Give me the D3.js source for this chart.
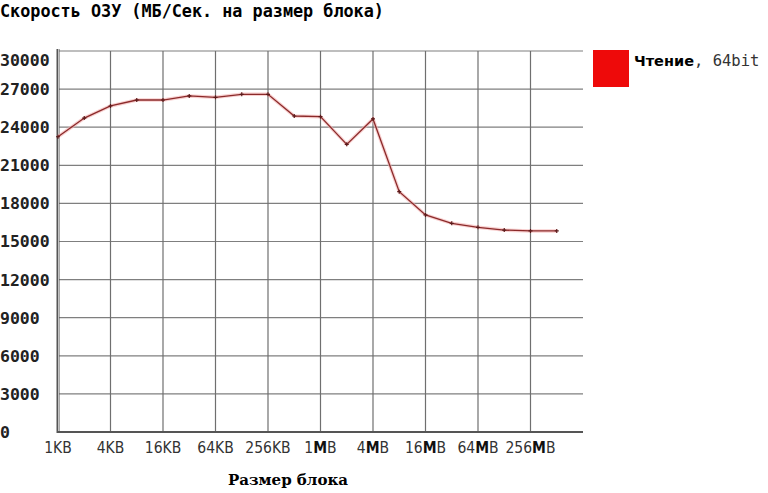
<!DOCTYPE html>
<html>
<head>
<meta charset="utf-8">
<script src="https://cdn.jsdelivr.net/npm/d3@7"></script>
<style>
    body { margin: 0; background: #fff; }
    svg { display: block; }
</style>
</head>
<body>
<div id="chart"></div>
<script>
// block sizes in KB, 1KB .. 512MB
const blockSizes = [1, 2, 4, 8, 16, 32, 64, 128, 256, 512, 1024, 2048, 4096, 8192,
    16384, 32768, 65536, 131072, 262144, 524288];
const readSpeed = [23250, 24720, 25670, 26140, 26140, 26460, 26350, 26590, 26590, 24880,
    24830, 22650, 24650, 18920, 17090, 16430, 16120, 15900, 15830, 15830];
const yTicks = [0, 3000, 6000, 9000, 12000, 15000, 18000, 21000, 24000, 27000, 30000];
const xTickValues = [1, 4, 16, 64, 256, 1024, 4096, 16384, 65536, 262144];
const xTickLabels = [["1", "", "KB"], ["4", "", "KB"], ["16", "", "KB"], ["64", "", "KB"], ["256", "", "KB"],
    ["1", "M", "B"], ["4", "M", "B"], ["16", "M", "B"], ["64", "M", "B"], ["256", "M", "B"]];
const seriesName = "Чтение";
const seriesSuffix = ", 64bit";

const width = 768, height = 493;
const plotLeft = 58, plotRight = 583, plotTop = 51, plotBottom = 432;

const svg = d3.select("#chart").append("svg")
    .attr("width", width)
    .attr("height", height);

const x = d3.scaleLog().base(2)
    .domain([1, 1048576])
    .range([plotLeft, plotRight]);

const y = d3.scaleLinear()
    .domain([0, 30000])
    .range([plotBottom, plotTop]);

// title
svg.append("text")
    .attr("x", 0)
    .attr("y", 17)
    .attr("font-family", "DejaVu Sans Mono")
    .attr("font-weight", "bold")
    .attr("font-size", 16.8)
    .text("Скорость ОЗУ (МБ/Сек. на размер блока)");

// grid
svg.append("g")
    .selectAll("line")
    .data(yTicks.slice(1))
    .join("line")
    .attr("x1", plotLeft).attr("x2", plotRight)
    .attr("y1", d => y(d)).attr("y2", d => y(d))
    .attr("stroke", "#7f7f7f")
    .attr("stroke-width", 1.2);

svg.append("g")
    .selectAll("line")
    .data(xTickValues.slice(1))
    .join("line")
    .attr("x1", d => x(d)).attr("x2", d => x(d))
    .attr("y1", plotTop).attr("y2", plotBottom)
    .attr("stroke", "#6f6f6f")
    .attr("stroke-width", 1.2);

// axes
svg.append("line")
    .attr("x1", plotLeft).attr("x2", plotLeft)
    .attr("y1", plotTop - 2).attr("y2", plotBottom + 1)
    .attr("stroke", "#555").attr("stroke-width", 3);
svg.append("line")
    .attr("x1", plotLeft + 0.5).attr("x2", plotLeft + 0.5)
    .attr("y1", plotTop - 2).attr("y2", plotBottom)
    .attr("stroke", "#ddd").attr("stroke-width", 0.8);
svg.append("line")
    .attr("x1", plotLeft).attr("x2", plotRight)
    .attr("y1", plotBottom).attr("y2", plotBottom)
    .attr("stroke", "#555").attr("stroke-width", 2.2);

// y labels
svg.append("g")
    .selectAll("text")
    .data(yTicks)
    .join("text")
    .attr("x", 0)
    .attr("y", d => d === 30000 ? y(d) + 9 : y(d))
    .attr("dy", "0.36em")
    .attr("font-family", "DejaVu Sans Mono")
    .attr("font-weight", "bold")
    .attr("font-size", 16.5)
    .attr("fill", "#222")
    .text(d => d);

// x labels
const xl = svg.append("g")
    .selectAll("text")
    .data(xTickValues)
    .join("text")
    .attr("x", d => x(d))
    .attr("y", 453)
    .attr("text-anchor", "middle")
    .attr("font-family", "DejaVu Sans Condensed")
    .attr("font-size", 15.5)
    .attr("fill", "#333");

xl.each(function (d, i) {
    const t = d3.select(this);
    const parts = xTickLabels[i];
    t.append("tspan").text(parts[0]);
    if (parts[1]) t.append("tspan").attr("font-weight", "bold").attr("fill", "#111").text(parts[1]);
    t.append("tspan").text(parts[2]);
});

// x axis title
svg.append("text")
    .attr("x", 288)
    .attr("y", 485)
    .attr("text-anchor", "middle")
    .attr("font-family", "DejaVu Serif")
    .attr("font-weight", "bold")
    .attr("font-size", 15)
    .text("Размер блока");

// series line
const line = d3.line()
    .x((d, i) => x(blockSizes[i]))
    .y(d => y(d));

svg.append("path")
    .datum(readSpeed)
    .attr("d", line)
    .attr("fill", "none")
    .attr("stroke", "#f4b0b0")
    .attr("stroke-width", 3.5)
    .attr("opacity", 0.6);

svg.append("path")
    .datum(readSpeed)
    .attr("d", line)
    .attr("fill", "none")
    .attr("stroke", "#8b2a2a")
    .attr("stroke-width", 1.3);

// markers
svg.append("g")
    .selectAll("path")
    .data(readSpeed)
    .join("path")
    .attr("d", (d, i) => {
        const cx = x(blockSizes[i]), cy = y(d);
        return `M${cx - 2},${cy}H${cx + 2}M${cx},${cy - 2}V${cy + 2}`;
    })
    .attr("stroke", "#5a1a1a")
    .attr("stroke-width", 1.2);

// legend
svg.append("rect")
    .attr("x", 593)
    .attr("y", 50)
    .attr("width", 36)
    .attr("height", 37)
    .attr("fill", "#ee0a0a");

const lg = svg.append("text")
    .attr("x", 634)
    .attr("y", 66);
lg.append("tspan")
    .attr("font-family", "DejaVu Sans")
    .attr("font-weight", "bold")
    .attr("font-size", 14.5)
    .text(seriesName);
lg.append("tspan")
    .attr("font-family", "DejaVu Sans Mono")
    .attr("font-size", 15.5)
    .attr("fill", "#333")
    .text(seriesSuffix);
</script>
</body>
</html>
